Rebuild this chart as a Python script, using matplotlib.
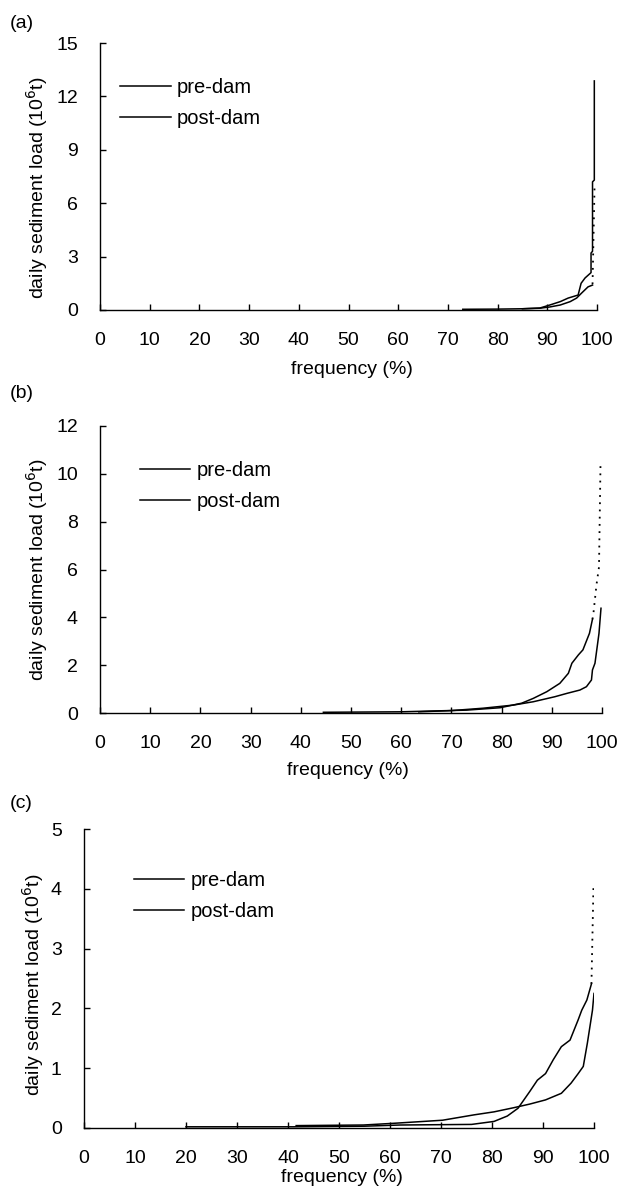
import matplotlib
matplotlib.use('Agg')
import matplotlib.pyplot as plt

plt.rcParams['font.family'] = ['Liberation Sans', 'DejaVu Sans']

# --- data (frequency %, load 10^6 t) ---
# (a)
a_pre_freq = [85, 88.5, 90.5, 92.6, 94.6, 95.9, 96.9, 98.2, 99.1]
a_pre_load = [0.07, 0.1, 0.17, 0.28, 0.47, 0.67, 0.95, 1.3, 1.4]
a_pre_ext_freq = [99.1, 99.5]
a_pre_ext_load = [1.45, 6.85]
a_post_freq = [73, 80, 85, 88.5, 90.5, 92.6, 94.2, 96.2, 96.8, 97.6, 98.8, 98.8, 99.1, 99.1, 99.46, 99.46]
a_post_load = [0.04, 0.05, 0.07, 0.11, 0.28, 0.47, 0.67, 0.84, 1.5, 1.8, 2.1, 3.2, 3.3, 7.2, 7.3, 12.87]

# (b)
b_pre_freq = [44.5, 60, 73, 79.7, 84.0, 86.3, 89.0, 91.6, 93.3, 94.0, 95.3, 96.2, 97.5, 98.1]
b_pre_load = [0.03, 0.05, 0.12, 0.22, 0.41, 0.61, 0.89, 1.24, 1.66, 2.08, 2.43, 2.64, 3.33, 3.92]
b_pre_ext_freq = [98.1, 98.3, 98.9, 99.4, 99.5, 99.7]
b_pre_ext_load = [3.92, 4.18, 5.36, 6.1, 7.5, 10.38]
b_post_freq = [63.5, 70, 76.3, 82.3, 86.3, 90.6, 93.0, 95.6, 96.9, 97.9, 98.1, 98.6, 99.4, 99.8]
b_post_load = [0.05, 0.1, 0.2, 0.33, 0.47, 0.68, 0.82, 0.96, 1.1, 1.38, 1.8, 2.08, 3.33, 4.38]

# (c)
c_pre_freq = [20, 41, 55, 62, 76, 80.4, 83, 85.1, 87.4, 88.9, 90.5, 92.0, 93.6, 95.3, 96.9, 97.6, 98.6, 99.5]
c_pre_load = [0.02, 0.02, 0.03, 0.05, 0.06, 0.11, 0.2, 0.33, 0.61, 0.8, 0.91, 1.14, 1.36, 1.47, 1.81, 1.97, 2.14, 2.41]
c_pre_ext_freq = [99.5, 99.9]
c_pre_ext_load = [2.41, 4.06]
c_post_freq = [41.6, 54.8, 61, 70.3, 76.5, 80.4, 84.3, 87.4, 90.5, 93.6, 95.5, 96.9, 97.9, 98.7, 99.7, 100]
c_post_load = [0.04, 0.05, 0.08, 0.13, 0.22, 0.27, 0.34, 0.40, 0.47, 0.58, 0.75, 0.91, 1.03, 1.42, 1.97, 2.25]

x_ticks = [0, 10, 20, 30, 40, 50, 60, 70, 80, 90, 100]
a_yticks = [0, 3, 6, 9, 12, 15]
b_yticks = [0, 2, 4, 6, 8, 10, 12]
c_yticks = [0, 1, 2, 3, 4, 5]

fig = plt.figure(figsize=(6.19, 11.88), dpi=100)
W, H = 619, 1188
FS = 14


def px_axes(left, right, top, bottom):
    # axes placed by pixel box of the original figure
    return fig.add_axes([left / W, 1 - bottom / H, (right - left) / W, (bottom - top) / H])


def draw_panel(ax, pre_f, pre_l, ext_f, ext_l, post_f, post_l, yticks,
               ylab_xy, xlab_xy, leg_xy):
    ax.plot(pre_f, pre_l, color='black', lw=1.1, label='pre-dam')
    ax.plot(post_f, post_l, color='black', lw=1.1, label='post-dam')
    ax.plot(ext_f, ext_l, color='black', lw=1.3, linestyle=(0, (1, 3)))

    ax.set_xlim(0, 100)
    ax.set_ylim(0, yticks[-1])
    ax.set_xticks(x_ticks)
    ax.set_yticks(yticks)

    ax.spines['top'].set_visible(False)
    ax.spines['right'].set_visible(False)
    for s in ['left', 'bottom']:
        ax.spines[s].set_linewidth(1.0)
    ax.tick_params(direction='in', length=4.5, width=1.0, labelsize=FS, pad=16)

    ax.set_ylabel('daily sediment load (10$^6$t)', fontsize=FS, va='center')
    ax.yaxis.set_label_coords(*ylab_xy)
    ax.set_xlabel('frequency (%)', fontsize=FS, va='center')
    ax.xaxis.set_label_coords(*xlab_xy)

    ax.legend(loc='center left', bbox_to_anchor=leg_xy, frameon=False,
              fontsize=14.5, handlelength=2.5, handletextpad=0.3,
              labelspacing=0.6, borderpad=0, borderaxespad=0)


# Panel (a)
ax_a = px_axes(100, 597, 43, 310)
draw_panel(ax_a, a_pre_freq, a_pre_load, a_pre_ext_freq, a_pre_ext_load,
           a_post_freq, a_post_load, a_yticks,
           (-0.126, 0.46), (0.507, -0.221), (0.041, 0.775))

# Panel (b)
ax_b = px_axes(100, 602, 426, 713)
draw_panel(ax_b, b_pre_freq, b_pre_load, b_pre_ext_freq, b_pre_ext_load,
           b_post_freq, b_post_load, b_yticks,
           (-0.1245, 0.5), (0.494, -0.202), (0.0797, 0.79))

# Panel (c)
ax_c = px_axes(84, 594, 829, 1128)
draw_panel(ax_c, c_pre_freq, c_pre_load, c_pre_ext_freq, c_pre_ext_load,
           c_post_freq, c_post_load, c_yticks,
           (-0.099, 0.48), (0.506, -0.164), (0.098, 0.775))

# panel letters
fig.text(22 / W, 1 - 23 / H, '(a)', fontsize=FS, ha='center', va='center')
fig.text(22 / W, 1 - 393 / H, '(b)', fontsize=FS, ha='center', va='center')
fig.text(21 / W, 1 - 803 / H, '(c)', fontsize=FS, ha='center', va='center')

fig.savefig('out.png', dpi=100)
